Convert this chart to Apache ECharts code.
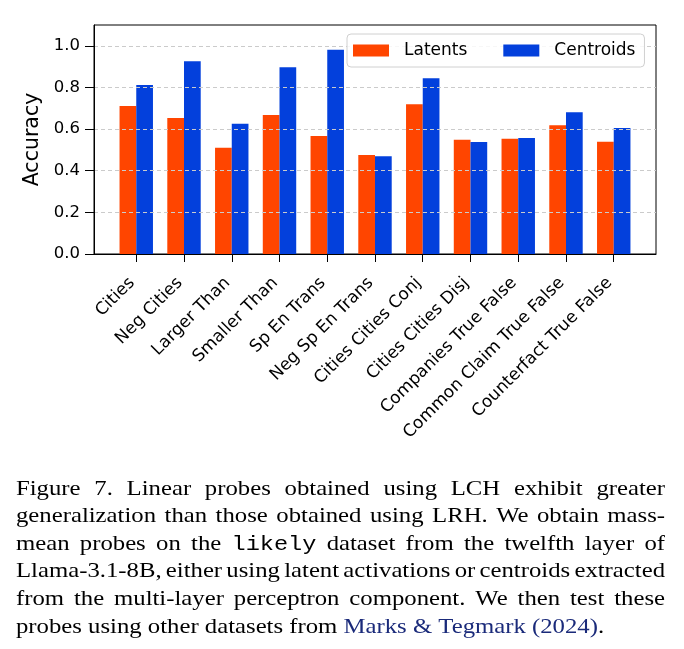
<!DOCTYPE html>
<html>
<head>
<meta charset="utf-8">
<script src="https://cdn.jsdelivr.net/npm/echarts@6/dist/echarts.min.js"></script>
<style>
  html, body { margin: 0; padding: 0; background: #fff; }
  #chart { width: 684px; height: 649px; }
</style>
</head>
<body>
<div id="chart"></div>
<script>
// ---- data ----
const categories = ["Cities", "Neg Cities", "Larger Than", "Smaller Than", "Sp En Trans",
  "Neg Sp En Trans", "Cities Cities Conj", "Cities Cities Disj", "Companies True False",
  "Common Claim True False", "Counterfact True False"];
const latents   = [0.711, 0.653, 0.510, 0.668, 0.567, 0.475, 0.719, 0.549, 0.554, 0.618, 0.539];
const centroids = [0.812, 0.926, 0.626, 0.897, 0.981, 0.470, 0.844, 0.538, 0.557, 0.681, 0.605];
const yTicks = [0, 0.2, 0.4, 0.6, 0.8, 1.0];
const seriesNames = ["Latents", "Centroids"];
const captionLines = [
  [["Figure 7.", "serif"], ["Linear probes obtained using LCH exhibit greater", "serif"]],
  [["generalization than those obtained using LRH. We obtain mass-", "serif"]],
  [["mean probes on the", "serif"], ["likely", "mono"], ["dataset from the twelfth layer of", "serif"]],
  [["Llama-3.1-8B, either using latent activations or centroids extracted", "serif"]],
  [["from the multi-layer perceptron component.", "serif"], ["We then test these", "serif"]],
  [["probes using other datasets from", "serif"], ["Marks & Tegmark (2024)", "link"], [".", "serifnospace"]]
];

// ---- chart ----
const chart = echarts.init(document.getElementById('chart'), null, { renderer: 'canvas' });
const sansFont = "'DejaVu Sans', sans-serif";
const catIdx = categories.map((_, i) => i);
const pxPerUnit = (684 - 94 - 28) / (10.885 + 0.885);
const barW = 0.35 * pxPerUnit;

// caption layout (justified text)
const capFontSize = 21.5;
const capScaleX = 1.15;
const serifFont = capFontSize + "px 'Liberation Serif', 'Times New Roman', serif";
const fonts = {
  serif: serifFont, serifnospace: serifFont, link: serifFont,
  mono: (capFontSize - 1) + "px 'Liberation Mono', 'DejaVu Sans Mono', monospace"
};
const colors = { serif: '#000', serifnospace: '#000', link: '#1a2a7a', mono: '#000' };
const measureCtx = document.createElement('canvas').getContext('2d');
function measure(t, font) { measureCtx.font = font; return measureCtx.measureText(t).width * capScaleX; }
const capLeft = 16, capRight = 665, capTop = 489, capLineH = 27.6;
const graphics = [];
captionLines.forEach((segs, li) => {
  const words = [];
  segs.forEach(([t, kind]) => {
    if (kind === 'serifnospace') { words.push({ t, kind, attach: true }); return; }
    t.split(' ').forEach(w => words.push({ t: w, kind, attach: false }));
  });
  const units = [];
  words.forEach(w => {
    if (w.attach && units.length) units[units.length - 1].push(w); else units.push([w]);
  });
  const unitW = units.map(u => u.reduce((s, w) => s + measure(w.t, fonts[w.kind]), 0));
  const total = unitW.reduce((a, b) => a + b, 0);
  const isLast = li === captionLines.length - 1;
  const space = isLast ? measure(' ', fonts.serif) : (capRight - capLeft - total) / (units.length - 1);
  let x = capLeft;
  const y = capTop + li * capLineH;
  units.forEach(u => {
    u.forEach(w => {
      graphics.push({
        type: 'text', x: x, y: y, scaleX: capScaleX, silent: true,
        style: { text: w.t, x: 0, y: 0, font: fonts[w.kind], fill: colors[w.kind], textAlign: 'left', textVerticalAlign: 'middle' }
      });
      x += measure(w.t, fonts[w.kind]);
    });
    x += space;
  });
});

const option = {
  backgroundColor: '#fff',
  animation: false,
  textStyle: { fontFamily: sansFont },
  grid: { left: 94, right: 28, top: 25, bottom: 395, show: true, borderColor: '#000', borderWidth: 1, backgroundColor: 'transparent' },
  legend: {
    data: seriesNames,
    left: 347, top: 34,
    orient: 'horizontal',
    itemWidth: 36, itemHeight: 12, itemGap: 36,
    icon: 'rect',
    padding: [8, 9, 8, 6],
    borderColor: '#d0d0d0', borderWidth: 1, borderRadius: 4,
    backgroundColor: 'rgba(255,255,255,0.85)',
    textStyle: { fontSize: 17, color: '#000', fontFamily: sansFont, padding: [0, 0, 0, 10] }
  },
  xAxis: {
    type: 'value', min: -0.885, max: 10.885, z: 4,
    axisLine: { show: true, onZero: false, lineStyle: { color: '#000', width: 1 } },
    axisTick: { show: true, customValues: catIdx, length: 8, lineStyle: { color: '#000' } },
    axisLabel: {
      customValues: catIdx, rotate: 45, margin: 22, padding: [0, 6, 0, 0],
      formatter: v => categories[Math.round(v)],
      fontSize: 17, color: '#000', fontFamily: sansFont
    },
    splitLine: { show: false }
  },
  yAxis: {
    type: 'value', min: 0, max: 1.1, interval: 0.2, z: 3,
    name: 'Accuracy', nameLocation: 'middle', nameRotate: 90, nameGap: 45,
    nameTextStyle: { fontSize: 20.5, color: '#000', fontFamily: sansFont },
    axisLine: { show: true, onZero: false, lineStyle: { color: '#000' } },
    axisTick: { show: true, customValues: yTicks, length: 9, lineStyle: { color: '#000' } },
    axisLabel: { customValues: yTicks, formatter: v => v.toFixed(1), fontSize: 16.5, color: '#000', margin: 14, fontFamily: sansFont },
    splitLine: { show: true, lineStyle: { type: [4, 3], color: '#cbcbcb', width: 1 } }
  },
  series: [
    { name: seriesNames[0], type: 'bar', barWidth: barW, barGap: '0%', itemStyle: { color: '#ff4500' },
      data: latents.map((v, i) => [i, v]) },
    { name: seriesNames[1], type: 'bar', barWidth: barW, barGap: '0%', itemStyle: { color: '#0340dc' },
      data: centroids.map((v, i) => [i, v]) }
  ],
  graphic: graphics
};
chart.setOption(option);
</script>
</body>
</html>
